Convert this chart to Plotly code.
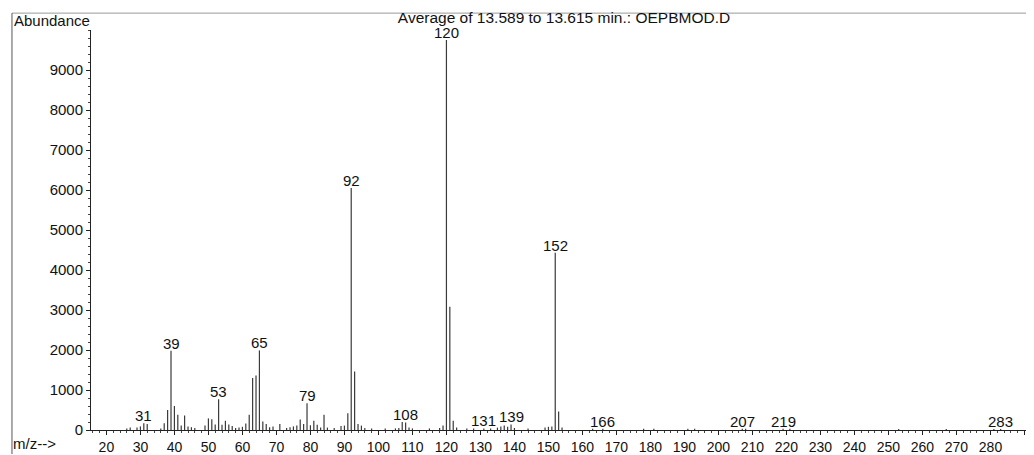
import plotly.graph_objects as go

# m/z values and abundances
mz = [26, 27, 29, 30, 31, 32, 36, 37, 38, 39, 40, 41, 42, 43, 44, 45, 46, 49, 50, 51, 52, 53,
      54, 55, 56, 57, 58, 59, 60, 61, 62, 63, 64, 65, 66, 67, 68, 69, 71, 73, 74, 75, 76, 77,
      78, 79, 80, 81, 82, 83, 84, 85, 87, 89, 90, 91, 92, 93, 94, 95, 96, 98, 102, 105, 106,
      107, 108, 109, 110, 115, 118, 119, 120, 121, 122, 123, 126, 128, 131, 133, 135, 136,
      137, 138, 139, 140, 144, 149, 150, 151, 152, 153, 154, 163, 166, 178, 181, 191, 193,
      207, 208, 219, 221, 253, 267, 281, 283]
abundance = [40, 60, 60, 90, 170, 150, 40, 170, 500, 1980, 600, 380, 110, 360, 90, 70, 50, 110,
             290, 270, 140, 770, 130, 230, 140, 100, 50, 60, 80, 160, 380, 1300, 1360, 1990,
             210, 150, 70, 90, 150, 50, 70, 90, 110, 260, 150, 670, 120, 230, 130, 60, 380, 60,
             50, 100, 110, 420, 6050, 1460, 150, 110, 50, 40, 40, 40, 50, 200, 190, 60, 40, 40,
             50, 110, 9750, 3080, 230, 60, 40, 40, 40, 40, 60, 90, 110, 80, 140, 50, 40, 60, 80,
             90, 4430, 460, 60, 30, 30, 30, 30, 30, 30, 30, 30, 30, 30, 25, 25, 25, 25]
labelled = [31, 39, 53, 65, 79, 92, 108, 120, 131, 139, 152, 166, 207, 219, 283]

xtick_vals = list(range(20, 300, 10))
ytick_vals = list(range(0, 10000, 1000))

lx, ly = [], []
for m, a in zip(mz, abundance):
    lx += [m, m, None]
    ly += [0, a, None]

fig = go.Figure()
fig.add_trace(go.Scatter(x=lx, y=ly, mode="lines",
                         line=dict(color="#3a3a3a", width=1.2),
                         hoverinfo="skip", showlegend=False))

abund = dict(zip(mz, abundance))
for m in labelled:
    fig.add_annotation(x=m, y=abund.get(m, 0), text=str(m), showarrow=False,
                       xanchor="center", yanchor="bottom", yshift=-2, borderpad=0,
                       font=dict(size=15, color="#111"))

fig.add_annotation(xref="paper", yref="paper", x=-0.0838, y=1.025, text="Abundance",
                   showarrow=False, xanchor="left", yanchor="middle",
                   font=dict(size=15, color="#111"))
fig.add_annotation(xref="paper", yref="paper", x=-0.0838, y=-0.034, text="m/z-->",
                   showarrow=False, xanchor="left", yanchor="middle", borderpad=0,
                   font=dict(size=15, color="#111"))

# scanned page frame lines
fig.add_shape(type="line", xref="paper", yref="paper", x0=-0.0838, x1=1.0, y0=1.0422, y1=1.0422,
              line=dict(color="#9a9a9a", width=1))
fig.add_shape(type="line", xref="paper", yref="paper", x0=-0.0838, x1=-0.0838, y0=1.0422, y1=-0.06,
              line=dict(color="#555", width=1))

fig.update_layout(
    width=1026, height=447,
    margin=dict(l=83, r=0, t=22, b=22),
    paper_bgcolor="white", plot_bgcolor="white",
    font=dict(family="Liberation Sans, Arial, sans-serif", color="#111"),
    title=dict(text="Average of 13.589 to 13.615 min.: OEPBMOD.D", x=0.5016, xref="paper",
               xanchor="center", y=0.979, yanchor="middle", font=dict(size=15.5, color="#111")),
    xaxis=dict(range=[15.47, 292.8], tickvals=xtick_vals, ticks="outside", ticklen=4,
               tickcolor="#222", showline=True, linecolor="#222", linewidth=1,
               showgrid=False, zeroline=False, tickfont=dict(size=14),
               minor=dict(dtick=2, ticks="outside", ticklen=2, tickcolor="#444")),
    yaxis=dict(range=[0, 10000], tickvals=ytick_vals, ticks="outside", ticklen=4,
               tickcolor="#222", showline=True, linecolor="#222", linewidth=1,
               showgrid=False, zeroline=False, tickfont=dict(size=15),
               minor=dict(dtick=200, ticks="outside", ticklen=2, tickcolor="#444")),
)

fig.write_html("out.html")
